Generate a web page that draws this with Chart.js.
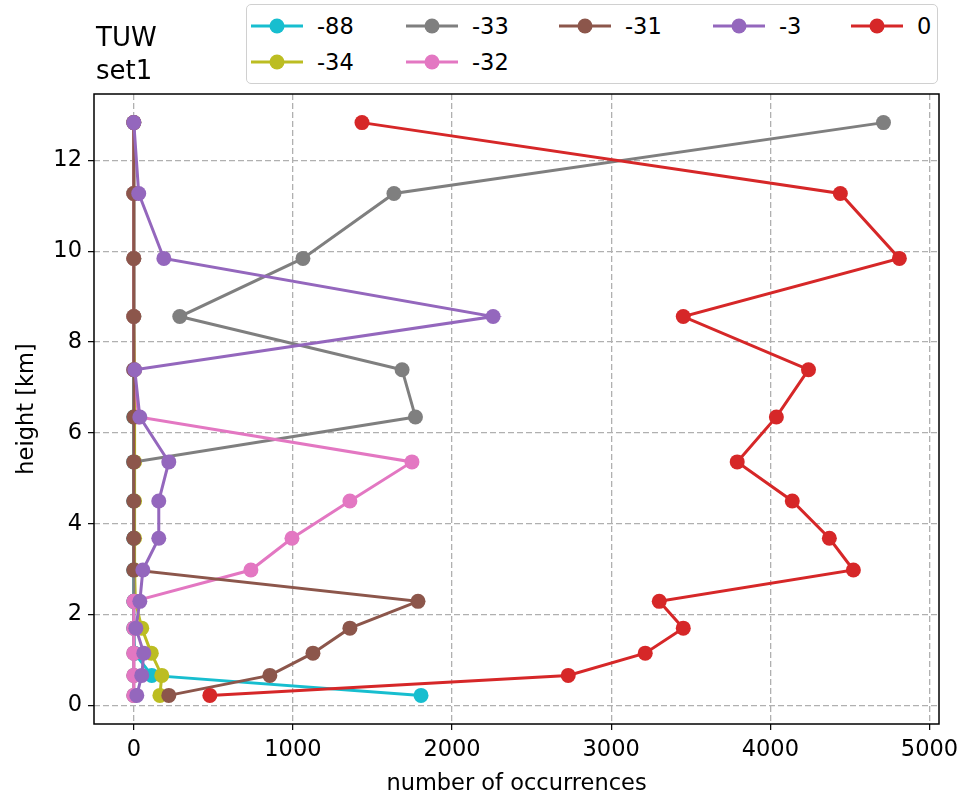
<!DOCTYPE html>
<html>
<head>
<meta charset="utf-8">
<script src="https://cdn.jsdelivr.net/npm/chart.js@4/dist/chart.umd.min.js"></script>
<style>
  body { margin: 0; background: #fff; font-family: 'DejaVu Sans', sans-serif; }
  #wrap { position: relative; width: 961px; height: 798px; }
  #grafico { position: absolute; left: 0; top: 0; }
  #titulo { position: absolute; left: 96px; top: 21px; font-size: 26px; line-height: 33px; color: #000; }
  #leyenda { position: absolute; left: 246px; top: 4px; width: 690px; height: 78px;
             border: 1.5px solid #d0d0d0; border-radius: 5px; background: #fff; }
  .item { position: absolute; height: 30px; display: flex; align-items: center; font-size: 22.5px; color: #000; }
  .item svg { margin-right: 14px; }
</style>
</head>
<body>
<div id="wrap">
  <canvas id="grafico" width="961" height="798"></canvas>
  <div id="titulo">TUW<br>set1</div>
  <div id="leyenda"></div>
</div>
<script>
// alturas de los niveles (km)
var alturas = [0.22, 0.66, 1.15, 1.70, 2.29, 2.98, 3.68, 4.50, 5.36, 6.35, 7.39, 8.56, 9.84, 11.27, 12.83];

// numero de ocurrencias por nivel para cada clase
var serieM88 = [1805, 113, 5, 0, 0, 0, 0, 0, 0, 0, 0, 0, 0, 0, 0];
var serieM34 = [164, 176, 110, 50, 10, 5, 5, 5, 5, 5, 5, 0, 0, 0, 0];
var serieM33 = [0, 0, 0, 0, 0, 0, 0, 0, 0, 1770, 1686, 289, 1063, 1635, 4711];
var serieM32 = [0, 0, 0, 0, 0, 736, 994, 1358, 1748, 30, 0, 0, 0, 0, 0];
var serieM31 = [220, 855, 1126, 1358, 1786, 0, 0, 0, 0, 0, 0, 0, 0, 0, 0];
var serieM3 = [19, 50, 63, 13, 38, 57, 157, 157, 220, 38, 6, 2258, 189, 31, 0];
var serie0 = [478, 2730, 3214, 3453, 3302, 4522, 4371, 4138, 3792, 4038, 4240, 3453, 4811, 4440, 1434];

var etiquetas = ['-88', '-34', '-33', '-32', '-31', '-3', '0'];
var series = [serieM88, serieM34, serieM33, serieM32, serieM31, serieM3, serie0];
var colores = ['#17becf', '#bcbd22', '#7f7f7f', '#e377c2', '#8c564b', '#9467bd', '#d62728'];

var ticksX = [0, 1000, 2000, 3000, 4000, 5000];
var ticksY = [0, 2, 4, 6, 8, 10, 12];

Chart.defaults.font.family = "'DejaVu Sans', sans-serif";
Chart.defaults.color = '#000';

var datasets = series.map(function (valores, i) {
    return {
        label: etiquetas[i],
        data: valores.map(function (v, j) { return { x: v, y: alturas[j] }; }),
        borderColor: colores[i],
        backgroundColor: colores[i],
        borderWidth: 3,
        pointRadius: 7.5,
        pointBorderWidth: 0,
        pointHoverRadius: 7.5,
        showLine: true,
        order: series.length - i  // la ultima serie queda encima
    };
});

// marco negro alrededor del area del grafico
var marco = {
    id: 'marco',
    afterDatasetsDraw: function (chart) {
        var a = chart.chartArea, ctx = chart.ctx;
        ctx.save();
        ctx.strokeStyle = '#000';
        ctx.lineWidth = 1.5;
        ctx.strokeRect(a.left, a.top, a.right - a.left, a.bottom - a.top);
        ctx.restore();
    }
};

var grilla = {
    color: '#b0b0b0',
    lineWidth: 1.3,
    tickColor: '#000',
    tickLength: 6,
    tickWidth: 1.2
};

var grafico = new Chart(document.getElementById('grafico').getContext('2d'), {
    type: 'scatter',
    data: { datasets: datasets },
    plugins: [marco],
    options: {
        responsive: false,
        animation: false,
        layout: { padding: { top: 94, right: 22, left: 0, bottom: 0 } },
        plugins: {
            legend: { display: false },
            tooltip: { enabled: false }
        },
        scales: {
            x: {
                type: 'linear',
                min: -250,
                max: 5060,
                afterBuildTicks: function (s) { s.ticks = ticksX.map(function (v) { return { value: v }; }); },
                afterFit: function (s) { s.height = 74; s.paddingLeft = 0; s.paddingRight = 0; },
                ticks: { font: { size: 22.5 }, padding: 7, maxRotation: 0, autoSkip: false,
                         callback: function (v) { return String(v); } },
                grid: grilla,
                border: { display: false, dash: [6, 3] },
                title: { display: true, text: 'number of occurrences', font: { size: 22.5 }, padding: { top: 0, bottom: 0 } }
            },
            y: {
                type: 'linear',
                min: -0.41,
                max: 13.46,
                afterBuildTicks: function (s) { s.ticks = ticksY.map(function (v) { return { value: v }; }); },
                afterFit: function (s) { s.width = 94; s.paddingTop = 0; s.paddingBottom = 0; },
                ticks: { font: { size: 22.5 }, padding: 6, autoSkip: false,
                         callback: function (v) { return String(v); } },
                grid: grilla,
                border: { display: false, dash: [6, 3] },
                title: { display: true, text: 'height [km]', font: { size: 22.5 }, padding: { top: 14, bottom: 0 } }
            }
        }
    }
});

// leyenda en 5 columnas, llenada por columnas
var leyenda = document.getElementById('leyenda');
var colX = [4, 159, 312, 466, 604];
var filaY = [6, 42];
var posiciones = [[0, 0], [0, 1], [1, 0], [1, 1], [2, 0], [3, 0], [4, 0]];
etiquetas.forEach(function (nombre, i) {
    var div = document.createElement('div');
    div.className = 'item';
    div.style.left = colX[posiciones[i][0]] + 'px';
    div.style.top = filaY[posiciones[i][1]] + 'px';
    div.innerHTML = '<svg width="52" height="20"><line x1="0" y1="10" x2="52" y2="10" stroke="' + colores[i] +
        '" stroke-width="3"/><circle cx="26" cy="10" r="7.5" fill="' + colores[i] + '"/></svg><span>' + nombre + '</span>';
    leyenda.appendChild(div);
});
</script>
</body>
</html>
